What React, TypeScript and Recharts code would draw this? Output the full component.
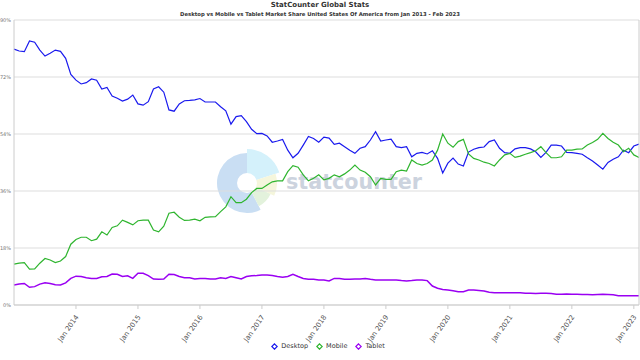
import { LineChart, Line, XAxis, YAxis, CartesianGrid } from 'recharts';

const monthNames = ['Jan', 'Feb', 'Mar', 'Apr', 'May', 'Jun', 'Jul', 'Aug', 'Sep', 'Oct', 'Nov', 'Dec'];
const firstYear = 2013;

// monthly share (%), Jan 2013 .. Feb 2023
const desktop = [
  80.8, 80.2, 80.0, 83.4, 83.0, 80.5, 78.6, 79.5, 80.5, 80.1, 77.9, 72.8,
  71.0, 69.8, 70.2, 71.4, 71.0, 68.2, 68.7, 66.0, 65.3, 64.4, 65.0, 66.3,
  63.5, 63.1, 64.2, 68.2, 68.9, 67.2, 61.6, 61.2, 63.5, 64.5, 64.6, 64.8,
  65.2, 64.1, 64.1, 64.1, 62.6, 61.3, 57.1, 59.5, 59.8, 57.9, 55.5, 54.1,
  54.2, 53.4, 51.4, 51.8, 52.3, 48.9, 46.5, 47.9, 50.5, 53.2, 52.6, 51.4,
  53.0, 52.7, 50.7, 51.1, 50.0, 48.9, 47.9, 49.5, 50.0, 52.1, 54.7, 51.8,
  52.1, 52.4, 50.0, 49.7, 50.0, 46.8, 47.9, 48.2, 47.7, 48.7, 46.3, 41.7,
  44.8, 46.4, 44.5, 43.9, 48.3, 49.2, 49.7, 49.9, 51.6, 52.1, 49.5, 48.1,
  47.9, 49.3, 49.7, 49.7, 49.3, 48.4, 46.6, 48.2, 50.5, 50.5, 50.2, 48.2,
  48.1, 47.9, 47.6, 46.5, 45.5, 44.2, 42.9, 45.0, 46.0, 46.8, 48.9, 48.1,
  50.2, 50.8,
];

const mobile = [
  12.9, 13.2, 13.4, 11.3, 11.4, 13.2, 14.7, 14.2, 13.4, 13.9, 15.3, 19.2,
  20.7, 21.4, 21.4, 20.3, 20.8, 23.1, 22.1, 24.5, 25.0, 26.8, 26.1, 25.3,
  26.6, 26.8, 26.8, 23.7, 23.1, 24.9, 29.0, 29.3, 27.7, 26.7, 26.8, 27.1,
  26.6, 27.7, 27.8, 27.9, 29.5, 31.0, 34.2, 32.3, 32.3, 33.4, 35.5, 36.8,
  36.8, 37.9, 38.9, 39.2, 39.2, 42.1, 44.0, 43.5, 41.1, 39.2, 40.0, 41.1,
  39.5, 40.0, 41.1, 40.5, 41.4, 42.6, 44.2, 42.6, 41.9, 40.5, 37.9, 40.0,
  39.7, 39.7, 42.1, 42.6, 42.3, 45.8, 44.7, 44.2, 44.7, 45.8, 48.9, 54.0,
  51.1, 49.8, 51.6, 52.3, 47.7, 46.3, 45.8, 45.1, 44.7, 43.9, 45.8, 47.4,
  47.9, 46.6, 47.0, 47.6, 48.1, 48.7, 50.0, 48.1, 46.5, 46.5, 46.8, 48.9,
  48.9, 49.2, 49.3, 50.5, 51.3, 52.3, 54.2, 52.6, 51.4, 50.5, 48.4, 49.5,
  47.4, 46.6,
];

const tablet = [
  6.3, 6.6, 6.8, 5.6, 5.8, 6.6, 7.0, 6.8, 6.4, 6.3, 7.0, 8.4,
  9.1, 9.0, 8.6, 8.4, 8.4, 8.9, 9.0, 9.8, 9.7, 9.0, 9.2, 8.4,
  10.0, 10.0, 9.3, 8.2, 8.1, 8.2, 9.7, 9.6, 9.0, 8.6, 8.6, 8.2,
  8.4, 8.4, 8.2, 8.2, 8.6, 8.4, 9.0, 8.6, 8.2, 9.0, 9.2, 9.3,
  9.5, 9.5, 9.3, 9.0, 8.8, 9.0, 9.7, 9.0, 8.4, 8.1, 8.1, 7.9,
  7.9, 7.6, 8.4, 8.4, 8.1, 8.1, 8.2, 8.2, 8.4, 8.1, 7.9, 7.9,
  7.9, 7.9, 7.9, 7.7, 7.6, 7.7, 7.9, 7.9, 7.7, 6.0, 5.3, 4.9,
  4.7, 4.5, 4.2, 4.2, 4.7, 4.7, 4.6, 4.4, 4.0, 3.9, 3.9, 3.9,
  3.9, 3.9, 3.9, 3.7, 3.7, 3.6, 3.7, 3.7, 3.6, 3.4, 3.4, 3.5,
  3.4, 3.4, 3.3, 3.3, 3.2, 3.3, 3.4, 3.3, 3.2, 2.9, 2.9, 2.9,
  2.9, 2.9,
];

const xTicks = [
  'Jan 2014', 'Jan 2015', 'Jan 2016', 'Jan 2017', 'Jan 2018',
  'Jan 2019', 'Jan 2020', 'Jan 2021', 'Jan 2022', 'Jan 2023',
];
const yTicks = [0, 18, 36, 54, 72, 90];

const series = [
  { key: 'desktop', name: 'Desktop', color: '#1a1aee' },
  { key: 'mobile', name: 'Mobile', color: '#2fb52f' },
  { key: 'tablet', name: 'Tablet', color: '#9a00f2' },
];

const months = desktop.map(
  (_, i) => `${monthNames[i % 12]} ${firstYear + Math.floor(i / 12)}`
);
const data = months.map((month, i) => ({
  month,
  desktop: desktop[i],
  mobile: mobile[i],
  tablet: tablet[i],
}));

const FONT = '"DejaVu Sans", Verdana, sans-serif';

function XTick({ x, y, payload }: any) {
  const tx = x + 3;
  const ty = y + 6;
  return (
    <text
      x={tx}
      y={ty}
      transform={`rotate(-55, ${tx}, ${ty})`}
      textAnchor="end"
      fontSize={7}
      fontFamily={FONT}
      fill="#555"
    >
      {payload.value}
    </text>
  );
}

function wedge(cx: number, cy: number, r: number, a0: number, a1: number) {
  const rad = (a: number) => (a * Math.PI) / 180;
  const x0 = cx + r * Math.cos(rad(a0));
  const y0 = cy - r * Math.sin(rad(a0));
  const x1 = cx + r * Math.cos(rad(a1));
  const y1 = cy - r * Math.sin(rad(a1));
  const large = a1 - a0 > 180 ? 1 : 0;
  return `M${cx},${cy} L${x0},${y0} A${r},${r} 0 ${large} 0 ${x1},${y1} Z`;
}

function Watermark() {
  const cx = 247;
  const cy = 183;
  return (
    <svg width={640} height={360} style={{ position: 'absolute', left: 0, top: 0 }}>
      <path d={wedge(cx, cy, 30, 90, 297)} fill="#c9def3" />
      <path d={wedge(cx, cy, 34, 18, 90)} fill="#d4f1fb" />
      <path d={wedge(cx, cy, 30, -25, 18)} fill="#f5f6dc" />
      <path d={wedge(cx, cy, 26, -63, -25)} fill="#e3f2dc" />
      <circle cx={cx} cy={cy} r={10} fill="#fff" />
      <text
        x={286}
        y={189}
        fontSize={21}
        fontWeight="bold"
        fontFamily={FONT}
        fill="#ccd3de"
        textLength={136}
        lengthAdjust="spacingAndGlyphs"
      >
        statcounter
      </text>
    </svg>
  );
}

function LegendIcon({ color }: { color: string }) {
  return (
    <svg width={7} height={7} style={{ marginRight: 3 }}>
      <path d="M3.5,0.8 L6.2,3.5 L3.5,6.2 L0.8,3.5 Z" fill="#fff" stroke={color} strokeWidth={1.2} />
    </svg>
  );
}

export default function App() {
  return (
    <div style={{ position: 'absolute', left: 0, top: 0, width: 640, height: 360, background: '#fff', fontFamily: FONT }}>
      <Watermark />
      <div style={{ position: 'absolute', left: 0, top: 1, width: 640, textAlign: 'center', fontSize: 7, fontWeight: 'bold', color: '#333' }}>
        StatCounter Global Stats
      </div>
      <div style={{ position: 'absolute', left: 0, top: 11, width: 640, textAlign: 'center', fontSize: 5.3, fontWeight: 'bold', color: '#333' }}>
        Desktop vs Mobile vs Tablet Market Share United States Of America from Jan 2013 - Feb 2023
      </div>
      <div style={{ position: 'absolute', left: 0, top: 0 }}>
        <LineChart width={640} height={360} data={data} margin={{ top: 20, right: 0, bottom: 15, left: 0 }}>
          <CartesianGrid vertical={false} stroke="#dddddd" />
          <XAxis
            dataKey="month"
            ticks={xTicks}
            interval={0}
            height={40}
            stroke="#cccccc"
            tickSize={4}
            tick={<XTick />}
          />
          <XAxis xAxisId="top" orientation="top" dataKey="month" height={0} tick={false} tickLine={false} stroke="#cccccc" />
          <YAxis
            domain={[0, 90]}
            ticks={yTicks}
            width={14}
            stroke="#cccccc"
            tickLine={false}
            tickSize={1}
            tickMargin={2}
            tickFormatter={(v: number) => `${v}%`}
            tick={{ fontSize: 5, fill: '#777', fontFamily: FONT }}
          />
          <YAxis yAxisId="right" orientation="right" width={1} tick={false} tickLine={false} stroke="#cccccc" />
          {series.map((s) => (
            <Line
              key={s.key}
              type="linear"
              dataKey={s.key}
              name={s.name}
              stroke={s.color}
              strokeWidth={s.key === 'tablet' ? 1.5 : 1.2}
              dot={false}
              isAnimationActive={false}
            />
          ))}
        </LineChart>
      </div>
      <div
        style={{
          position: 'absolute',
          left: 8,
          top: 342,
          width: 640,
          display: 'flex',
          justifyContent: 'center',
          alignItems: 'center',
          gap: 8,
          fontSize: 6.5,
          color: '#333',
        }}
      >
        {series.map((s) => (
          <div key={s.key} style={{ display: 'flex', alignItems: 'center' }}>
            <LegendIcon color={s.color} />
            <span>{s.name}</span>
          </div>
        ))}
      </div>
    </div>
  );
}
